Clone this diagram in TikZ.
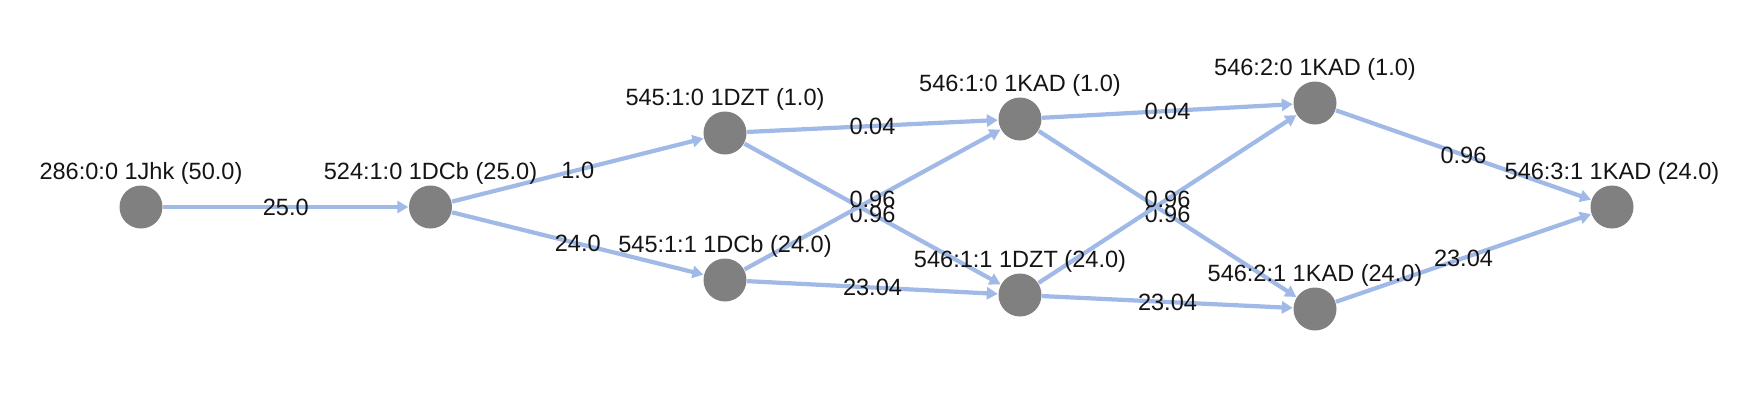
\documentclass[tikz,border=0pt]{standalone}
\usepackage{fontspec}
\setmainfont{Liberation Sans}
\usetikzlibrary{arrows.meta}
\definecolor{edgeblue}{RGB}{160,185,230}
\definecolor{nodegray}{RGB}{128,128,128}
\definecolor{txt}{RGB}{20,20,20}
\begin{document}
\begin{tikzpicture}[
  vtx/.style={circle,fill=nodegray,draw=none,inner sep=0pt,minimum size=0.43cm},
  lbl/.style={font=\fontsize{6.7}{8}\selectfont,text=txt,inner sep=0pt},
  elbl/.style={font=\fontsize{6.7}{8}\selectfont,text=txt,inner sep=0pt,midway},
  edge/.style={draw=edgeblue,line width=1.2pt,-{Triangle[length=0.11cm,width=0.12cm]}}
]
\useasboundingbox (0,0) rectangle (17.54,4.18);
\node[vtx] (a) at (1.41,2.11) {};
\node[vtx] (b) at (4.305,2.11) {};
\node[vtx] (c) at (7.25,2.85) {};
\node[vtx] (d) at (7.25,1.38) {};
\node[vtx] (e) at (10.20,2.99) {};
\node[vtx] (f) at (10.20,1.23) {};
\node[vtx] (g) at (13.15,3.15) {};
\node[vtx] (h) at (13.15,1.09) {};
\node[vtx] (i) at (16.12,2.11) {};
\draw[edge] (a) -- node[elbl]{25.0} (b);
\draw[edge] (b) -- node[elbl]{1.0} (c);
\draw[edge] (b) -- node[elbl]{24.0} (d);
\draw[edge] (c) -- node[elbl]{0.04} (e);
\draw[edge] (c) -- node[elbl]{0.96} (f);
\draw[edge] (d) -- node[elbl]{0.96} (e);
\draw[edge] (d) -- node[elbl]{23.04} (f);
\draw[edge] (e) -- node[elbl]{0.04} (g);
\draw[edge] (e) -- node[elbl]{0.96} (h);
\draw[edge] (f) -- node[elbl]{0.96} (g);
\draw[edge] (f) -- node[elbl]{23.04} (h);
\draw[edge] (g) -- node[elbl]{0.96} (i);
\draw[edge] (h) -- node[elbl]{23.04} (i);
\node[lbl] (la) at ([yshift=0.34cm]a.center) {286:0:0 1Jhk (50.0)};
\node[lbl] (lb) at ([yshift=0.34cm]b.center) {524:1:0 1DCb (25.0)};
\node[lbl] (lc) at ([yshift=0.34cm]c.center) {545:1:0 1DZT (1.0)};
\node[lbl] (ld) at ([yshift=0.34cm]d.center) {545:1:1 1DCb (24.0)};
\node[lbl] (le) at ([yshift=0.34cm]e.center) {546:1:0 1KAD (1.0)};
\node[lbl] (lf) at ([yshift=0.34cm]f.center) {546:1:1 1DZT (24.0)};
\node[lbl] (lg) at ([yshift=0.34cm]g.center) {546:2:0 1KAD (1.0)};
\node[lbl] (lh) at ([yshift=0.34cm]h.center) {546:2:1 1KAD (24.0)};
\node[lbl] (li) at ([yshift=0.34cm]i.center) {546:3:1 1KAD (24.0)};
\end{tikzpicture}
\end{document}
